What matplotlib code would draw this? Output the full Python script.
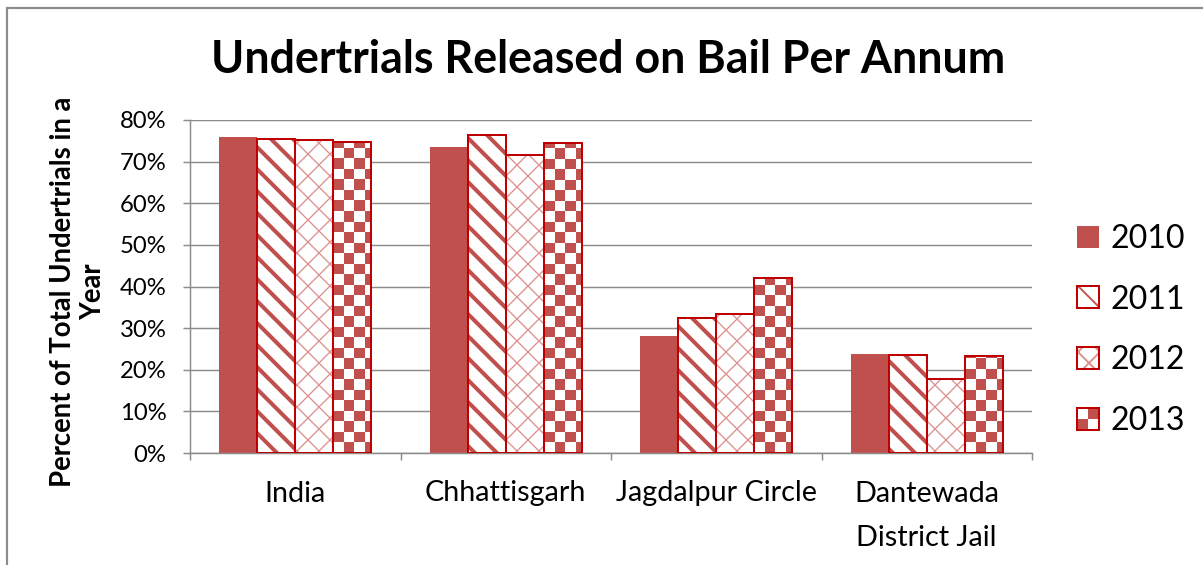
import matplotlib
matplotlib.use('Agg')
import matplotlib.pyplot as plt
import numpy as np
from matplotlib.patches import Rectangle
from matplotlib.legend_handler import HandlerBase, HandlerTuple
from matplotlib.colors import ListedColormap
from matplotlib.ticker import FixedLocator

# share of undertrials released on bail, in percent
categories = ['India', 'Chhattisgarh', 'Jagdalpur Circle', 'Dantewada\nDistrict Jail']
years = ['2010', '2011', '2012', '2013']
rate_2010 = [76.0, 73.6, 28.1, 23.8]
rate_2011 = [75.5, 76.4, 32.5, 23.6]
rate_2012 = [75.1, 71.6, 33.5, 17.8]
rate_2013 = [74.8, 74.4, 42.0, 23.3]
y_ticks = [0, 10, 20, 30, 40, 50, 60, 70, 80]

RED = '#C0504D'
EDGE = '#C00000'
PINK = '#DC8E8C'
GREY = '#8C8C8C'

plt.rcParams['font.family'] = ['Lato', 'DejaVu Sans']

DPI = 132
W, H = 1203, 565
fig = plt.figure(figsize=(W / DPI, H / DPI), dpi=DPI)
ax = fig.add_axes([190 / W, 1 - 453 / H, (1032 - 190) / W, (453 - 120) / H])

x = np.arange(len(categories))
w = 0.18


def hatched_bars(xpos, vals, hatch, hcolor, hlw):
    with plt.rc_context({'hatch.linewidth': hlw}):
        bars = ax.bar(xpos, vals, w, facecolor='white', edgecolor=hcolor,
                      linewidth=0, hatch=hatch, zorder=2)
    for b in bars:
        if hasattr(b, 'set_hatch_linewidth'):
            b.set_hatch_linewidth(hlw)
    outline = ax.bar(xpos, vals, w, fill=False, edgecolor=EDGE,
                     linewidth=1.1, zorder=4)
    return bars, outline


b10 = ax.bar(x - 1.5 * w, rate_2010, w, color=RED, linewidth=0, zorder=2)
b11, o11 = hatched_bars(x - 0.5 * w, rate_2011, '\\\\', RED, 2.2)
b12, o12 = hatched_bars(x + 0.5 * w, rate_2012, 'xx', PINK, 0.7)
b13 = ax.bar(x + 1.5 * w, rate_2013, w, facecolor='white', linewidth=0, zorder=2)
o13 = ax.bar(x + 1.5 * w, rate_2013, w, fill=False, edgecolor=EDGE,
             linewidth=1.1, zorder=4)

ax.set_xlim(-0.5, 3.5)
ax.set_ylim(0, 80)

# checkerboard fill for 2013, drawn as an image clipped to each bar
px = ax.transData.transform([(0, 0), (1, 1)])
px_x, px_y = px[1] - px[0]
cell = 10.5
cmap = ListedColormap(['white', RED])
for b in b13:
    x0, y0, bw, bh = b.get_x(), b.get_y(), b.get_width(), b.get_height()
    cx, cy = cell / px_x, cell / px_y
    nx, ny = int(np.ceil(bw / cx)), int(np.ceil(bh / cy))
    board = np.add.outer(np.arange(ny), np.arange(nx)) % 2
    im = ax.imshow(board[::-1], cmap=cmap, interpolation='nearest', aspect='auto',
                   extent=(x0, x0 + nx * cx, y0, y0 + ny * cy), zorder=3)
    im.set_clip_path(b)
ax.set_xlim(-0.5, 3.5)
ax.set_ylim(0, 80)

ax.set_yticks(y_ticks)
ax.set_yticklabels([f'{t}%' for t in y_ticks])
ax.set_xticks(x)
ax.set_xticklabels(categories, linespacing=1.9)
ax.xaxis.set_minor_locator(FixedLocator(np.arange(-0.5, 4.0, 1.0)))

ax.tick_params(axis='y', length=3.8, width=0.8, color=GREY, labelsize=13, pad=9)
ax.tick_params(axis='x', which='major', length=0, labelsize=15.7, pad=15)
ax.tick_params(axis='x', which='minor', length=3.8, width=0.8, color=GREY)

ax.yaxis.grid(True, color=GREY, linewidth=0.8)
ax.set_axisbelow(True)
for s in ['top', 'right']:
    ax.spines[s].set_visible(False)
for s in ['left', 'bottom']:
    ax.spines[s].set_color(GREY)
    ax.spines[s].set_linewidth(0.8)

fig.text(608 / W, 1 - 60 / H, 'Undertrials Released on Bail Per Annum',
         ha='center', va='center', fontsize=24.4, fontweight='bold')
fig.text(78 / W, 1 - 292 / H, 'Percent of Total Undertrials in a\nYear',
         ha='center', va='center', rotation=90, fontsize=15,
         fontweight='bold', multialignment='center')


class CheckerKey:
    pass


class CheckerHandler(HandlerBase):
    def create_artists(self, legend, orig_handle, xdescent, ydescent,
                       width, height, fontsize, trans):
        parts = []
        n = 2
        for i in range(n):
            for j in range(n):
                parts.append(Rectangle((-xdescent + j * width / n, -ydescent + i * height / n),
                                       width / n, height / n, linewidth=0,
                                       facecolor=RED if (i + j) % 2 == 0 else 'white',
                                       transform=trans))
        parts.append(Rectangle((-xdescent, -ydescent), width, height, fill=False,
                               edgecolor=EDGE, linewidth=1.1, transform=trans))
        return parts


handles = [b10[0], (b11[0], o11[0]), (b12[0], o12[0]), CheckerKey()]
fig.legend(handles, years, loc='center left', bbox_to_anchor=(1077 / W, 1 - 330 / H),
           frameon=False, fontsize=17.5, handlelength=0.68, handleheight=0.68,
           handletextpad=0.35, labelspacing=0.96, borderpad=0, borderaxespad=0,
           handler_map={tuple: HandlerTuple(ndivide=1), CheckerKey: CheckerHandler()})

# outer chart frame
fig.add_artist(Rectangle((7 / W, -0.1), 1.5, 1 - 8 / H + 0.1, transform=fig.transFigure,
                         fill=False, edgecolor=GREY, linewidth=1.2))

fig.savefig('out.png', dpi=DPI)
